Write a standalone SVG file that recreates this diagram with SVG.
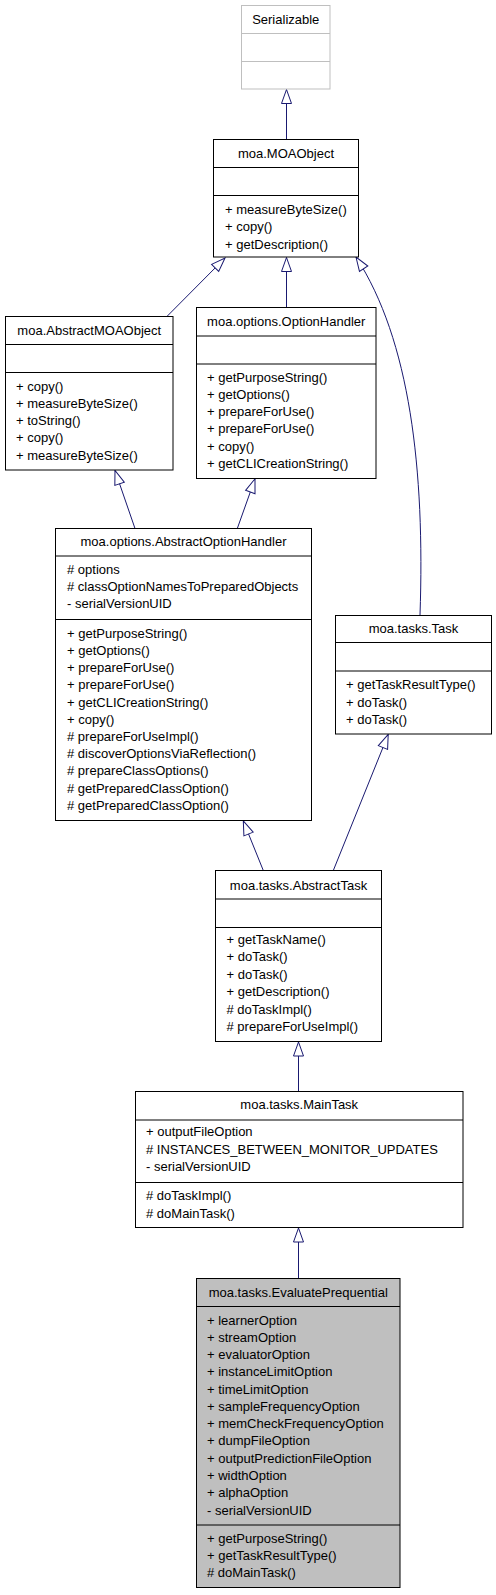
<svg xmlns="http://www.w3.org/2000/svg" width="496" height="1595" viewBox="0 0 496 1595">
<style>
text{font-family:"Liberation Sans",Arial,Helvetica,sans-serif;font-size:13px;fill:#000}
.t{text-anchor:middle}
.box{fill:#fff;stroke:#000;stroke-width:1}
.gbox{fill:#fff;stroke:#bfbfbf;stroke-width:1}
.sel{fill:#bfbfbf;stroke:#000;stroke-width:1}
.sep{stroke:#000;stroke-width:1}
.gsep{stroke:#bfbfbf;stroke-width:1}
.e{fill:none;stroke:#191970;stroke-width:1;marker-end:url(#inh)}
</style>
<defs>
<marker id="inh" markerUnits="userSpaceOnUse" markerWidth="16" markerHeight="12" viewBox="-1 -1 16 12" refX="14" refY="5" orient="auto">
<path d="M0,0 L14,5 L0,10 Z" fill="#fff" stroke="#191970" stroke-width="1"/>
</marker>
</defs>
<g id="connectors">
<path class="e" d="M286.5,139.5 L286.5,89.5"/>
<path class="e" d="M166.7,316.7 L225,258"/>
<path class="e" d="M286.5,307.5 L286.5,257.5"/>
<path class="e" d="M420,615 C425,470 410,340 356,257"/>
<path class="e" d="M135,528.5 L115,470.5"/>
<path class="e" d="M237.3,528.5 L255,478.8"/>
<path class="e" d="M263.3,870.5 L243.3,821"/>
<path class="e" d="M333.3,870.5 L388.2,734.5"/>
<path class="e" d="M298.5,1091.5 L298.5,1042"/>
<path class="e" d="M298.5,1278.5 L298.5,1228"/>
</g>
<g id="Serializable">
<rect class="gbox" x="241.5" y="5.5" width="88.5" height="83.5"/>
<line class="gsep" x1="241.5" y1="33.5" x2="330" y2="33.5"/>
<line class="gsep" x1="241.5" y1="61.5" x2="330" y2="61.5"/>
<text class="t" x="285.75" y="23.5">Serializable</text>
</g>
<g id="MOAObject">
<rect class="box" x="213.5" y="139.5" width="145" height="117.5"/>
<line class="sep" x1="213.5" y1="167.5" x2="358.5" y2="167.5"/>
<line class="sep" x1="213.5" y1="195.5" x2="358.5" y2="195.5"/>
<text class="t" x="286" y="158">moa.MOAObject</text>
<text x="225" y="214">+ measureByteSize()</text>
<text x="225" y="231.3">+ copy()</text>
<text x="225" y="248.6">+ getDescription()</text>
</g>
<g id="AbstractMOAObject">
<rect class="box" x="5.5" y="316.5" width="167.5" height="153.5"/>
<line class="sep" x1="5.5" y1="344.5" x2="173" y2="344.5"/>
<line class="sep" x1="5.5" y1="372.5" x2="173" y2="372.5"/>
<text class="t" x="89.25" y="334.5">moa.AbstractMOAObject</text>
<text x="16" y="390.5">+ copy()</text>
<text x="16" y="407.8">+ measureByteSize()</text>
<text x="16" y="425.1">+ toString()</text>
<text x="16" y="442.4">+ copy()</text>
<text x="16" y="459.7">+ measureByteSize()</text>
</g>
<g id="OptionHandler">
<rect class="box" x="196.5" y="307.5" width="179.5" height="171"/>
<line class="sep" x1="196.5" y1="336" x2="376" y2="336"/>
<line class="sep" x1="196.5" y1="364" x2="376" y2="364"/>
<text class="t" x="286.25" y="325.5">moa.options.OptionHandler</text>
<text x="207" y="381.5">+ getPurposeString()</text>
<text x="207" y="398.8">+ getOptions()</text>
<text x="207" y="416.1">+ prepareForUse()</text>
<text x="207" y="433.4">+ prepareForUse()</text>
<text x="207" y="450.7">+ copy()</text>
<text x="207" y="468">+ getCLICreationString()</text>
</g>
<g id="AbstractOptionHandler">
<rect class="box" x="55.5" y="528.5" width="256" height="292"/>
<line class="sep" x1="55.5" y1="556" x2="311.5" y2="556"/>
<line class="sep" x1="55.5" y1="619.5" x2="311.5" y2="619.5"/>
<text class="t" x="183.5" y="546">moa.options.AbstractOptionHandler</text>
<text x="67" y="573.8"># options</text>
<text x="67" y="591.1"># classOptionNamesToPreparedObjects</text>
<text x="67" y="608.4">- serialVersionUID</text>
<text x="67" y="637.8">+ getPurposeString()</text>
<text x="67" y="655">+ getOptions()</text>
<text x="67" y="672.2">+ prepareForUse()</text>
<text x="67" y="689.4">+ prepareForUse()</text>
<text x="67" y="706.6">+ getCLICreationString()</text>
<text x="67" y="723.8">+ copy()</text>
<text x="67" y="741"># prepareForUseImpl()</text>
<text x="67" y="758.2"># discoverOptionsViaReflection()</text>
<text x="67" y="775.4"># prepareClassOptions()</text>
<text x="67" y="792.6"># getPreparedClassOption()</text>
<text x="67" y="809.8"># getPreparedClassOption()</text>
</g>
<g id="Task">
<rect class="box" x="335.5" y="615.5" width="156" height="118.5"/>
<line class="sep" x1="335.5" y1="642.5" x2="491.5" y2="642.5"/>
<line class="sep" x1="335.5" y1="671" x2="491.5" y2="671"/>
<text class="t" x="413.5" y="633">moa.tasks.Task</text>
<text x="346" y="689">+ getTaskResultType()</text>
<text x="346" y="706.5">+ doTask()</text>
<text x="346" y="724">+ doTask()</text>
</g>
<g id="AbstractTask">
<rect class="box" x="215.5" y="870.5" width="166" height="171"/>
<line class="sep" x1="215.5" y1="899" x2="381.5" y2="899"/>
<line class="sep" x1="215.5" y1="927.5" x2="381.5" y2="927.5"/>
<text class="t" x="298.5" y="889.5">moa.tasks.AbstractTask</text>
<text x="226.5" y="943.8">+ getTaskName()</text>
<text x="226.5" y="961.3">+ doTask()</text>
<text x="226.5" y="978.8">+ doTask()</text>
<text x="226.5" y="996.3">+ getDescription()</text>
<text x="226.5" y="1013.8"># doTaskImpl()</text>
<text x="226.5" y="1031.3"># prepareForUseImpl()</text>
</g>
<g id="MainTask">
<rect class="box" x="135.5" y="1091.5" width="327.5" height="136"/>
<line class="sep" x1="135.5" y1="1120" x2="463" y2="1120"/>
<line class="sep" x1="135.5" y1="1182.5" x2="463" y2="1182.5"/>
<text class="t" x="299.25" y="1108.5">moa.tasks.MainTask</text>
<text x="146" y="1136.2">+ outputFileOption</text>
<text x="146" y="1153.5"># INSTANCES_BETWEEN_MONITOR_UPDATES</text>
<text x="146" y="1170.8">- serialVersionUID</text>
<text x="146" y="1200.2"># doTaskImpl()</text>
<text x="146" y="1217.5"># doMainTask()</text>
</g>
<g id="EvaluatePrequential">
<rect class="sel" x="196.5" y="1278.5" width="203.5" height="309"/>
<line class="sep" x1="196.5" y1="1306.5" x2="400" y2="1306.5"/>
<line class="sep" x1="196.5" y1="1525" x2="400" y2="1525"/>
<text class="t" x="298.25" y="1296.8">moa.tasks.EvaluatePrequential</text>
<text x="207" y="1324.5">+ learnerOption</text>
<text x="207" y="1341.8">+ streamOption</text>
<text x="207" y="1359">+ evaluatorOption</text>
<text x="207" y="1376.3">+ instanceLimitOption</text>
<text x="207" y="1393.6">+ timeLimitOption</text>
<text x="207" y="1410.8">+ sampleFrequencyOption</text>
<text x="207" y="1428.1">+ memCheckFrequencyOption</text>
<text x="207" y="1445.4">+ dumpFileOption</text>
<text x="207" y="1462.7">+ outputPredictionFileOption</text>
<text x="207" y="1479.9">+ widthOption</text>
<text x="207" y="1497.2">+ alphaOption</text>
<text x="207" y="1514.5">- serialVersionUID</text>
<text x="207" y="1542.8">+ getPurposeString()</text>
<text x="207" y="1560.1">+ getTaskResultType()</text>
<text x="207" y="1577.4"># doMainTask()</text>
</g>
</svg>
